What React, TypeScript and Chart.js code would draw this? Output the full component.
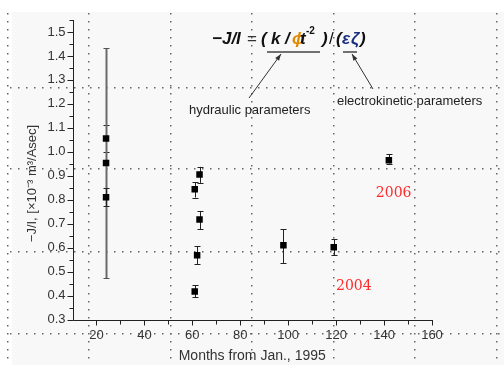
import React, { useEffect, useRef } from 'react';
import { Chart, registerables } from 'chart.js';

Chart.register(...registerables);

// ---- data ----
const months = [24, 24, 24, 61, 63, 63, 62, 61, 98, 119, 142];
const values = [1.055, 0.953, 0.81, 0.844, 0.905, 0.717, 0.568, 0.417, 0.61, 0.602, 0.965];
const errUp = [0.055, 0.48, 0.037, 0.03, 0.032, 0.036, 0.037, 0.025, 0.067, 0.034, 0.024];
const errDown = [0.055, 0.48, 0.037, 0.035, 0.035, 0.04, 0.038, 0.024, 0.074, 0.034, 0.014];

const xTicks = [20, 40, 60, 80, 100, 120, 140, 160];
const xMinorTicks = [30, 50, 70, 90, 110, 130, 150];
const yTicks = [0.3, 0.4, 0.5, 0.6, 0.7, 0.8, 0.9, 1.0, 1.1, 1.2, 1.3, 1.4, 1.5];
const yMinorTicks = [0.35, 0.45, 0.55, 0.65, 0.75, 0.85, 0.95, 1.05, 1.15, 1.25, 1.35, 1.45, 1.55];

const xTitle = 'Months from Jan., 1995';
const yTitle = '\u2212J/I, [\u00d710\u207b\u00b3 m\u00b3/Asec]';
const yearLabels = ['2006', '2004'];
const yearMonths = [144, 127.4];
const yearValues = [0.828, 0.44];
const hydraulicLabel = 'hydraulic parameters';
const electroLabel = 'electrokinetic parameters';

const W = 504;
const H = 365;
const SANS = '"Liberation Sans", Arial, sans-serif';

const decorPlugin = {
  id: 'decor',
  beforeDraw(chart: any) {
    const ctx = chart.ctx;
    ctx.save();
    ctx.fillStyle = '#ffffff';
    ctx.fillRect(0, 0, W, H);
    ctx.fillStyle = '#f8f8f8';
    ctx.fillRect(12, 12, W, H);
    ctx.fillStyle = '#666';
    const vx = [7, 88, 170, 251, 333, 414, 496];
    const hy = [87, 168, 251, 333];
    for (const x of vx) for (let y = 13; y < H; y += 8) ctx.fillRect(x, y, 1.5, 1.5);
    for (const y of hy) for (let x = 10; x < W; x += 8) ctx.fillRect(x, y, 1.5, 1.5);
    ctx.restore();
  },
  beforeDatasetsDraw(chart: any) {
    const ctx = chart.ctx;
    const xs = chart.scales.x;
    const ys = chart.scales.y;
    ctx.save();
    months.forEach((m, i) => {
      const x = Math.round(xs.getPixelForValue(m)) + 0.5;
      const yHi = ys.getPixelForValue(values[i] + errUp[i]);
      const yLo = ys.getPixelForValue(values[i] - errDown[i]);
      const big = errUp[i] + errDown[i] > 0.5;
      ctx.strokeStyle = big ? '#6a6a6a' : '#222';
      ctx.lineWidth = big ? 2 : 1;
      ctx.beginPath();
      ctx.moveTo(x, yHi);
      ctx.lineTo(x, yLo);
      ctx.stroke();
      ctx.lineWidth = 1;
      ctx.strokeStyle = big ? '#555' : '#222';
      ctx.beginPath();
      ctx.moveTo(x - 3, Math.round(yHi) + 0.5);
      ctx.lineTo(x + 3, Math.round(yHi) + 0.5);
      ctx.moveTo(x - 3, Math.round(yLo) + 0.5);
      ctx.lineTo(x + 3, Math.round(yLo) + 0.5);
      ctx.stroke();
    });
    ctx.restore();
  },
  afterDraw(chart: any) {
    const ctx = chart.ctx;
    const xs = chart.scales.x;
    const ys = chart.scales.y;
    const area = chart.chartArea;
    ctx.save();
    // axes
    ctx.strokeStyle = '#222';
    ctx.lineWidth = 1;
    const ax = Math.round(area.left) + 0.5;
    const ay = Math.round(area.bottom) + 0.5;
    ctx.beginPath();
    ctx.moveTo(ax, Math.round(area.top));
    ctx.lineTo(ax, ay);
    ctx.lineTo(Math.round(area.right) + 1, ay);
    for (const v of yTicks) {
      const y = Math.round(ys.getPixelForValue(v)) + 0.5;
      ctx.moveTo(ax - 6, y);
      ctx.lineTo(ax, y);
    }
    for (const v of yMinorTicks) {
      const y = Math.round(ys.getPixelForValue(v)) + 0.5;
      ctx.moveTo(ax - 4, y);
      ctx.lineTo(ax, y);
    }
    for (const v of xTicks) {
      const x = Math.round(xs.getPixelForValue(v)) + 0.5;
      ctx.moveTo(x, ay);
      ctx.lineTo(x, ay + 5);
    }
    for (const v of xMinorTicks) {
      const x = Math.round(xs.getPixelForValue(v)) + 0.5;
      ctx.moveTo(x, ay);
      ctx.lineTo(x, ay + 4);
    }
    ctx.stroke();

    // y title
    ctx.save();
    ctx.translate(32, 183.5);
    ctx.rotate(-Math.PI / 2);
    ctx.font = `13px ${SANS}`;
    ctx.fillStyle = '#333';
    ctx.textAlign = 'center';
    ctx.textBaseline = 'middle';
    ctx.fillText(yTitle, 0, 0);
    ctx.restore();

    // year labels
    ctx.font = '14px "DejaVu Serif", serif';
    ctx.fillStyle = '#ff2a2a';
    ctx.textAlign = 'center';
    ctx.textBaseline = 'middle';
    yearLabels.forEach((t, i) => {
      ctx.fillText(t, xs.getPixelForValue(yearMonths[i]), ys.getPixelForValue(yearValues[i]));
    });

    // formula
    ctx.textAlign = 'left';
    ctx.textBaseline = 'alphabetic';
    const bi = `italic bold 17px ${SANS}`;
    const nb = `17px ${SANS}`;
    const pieces: [string, number, string, string, number][] = [
      ['\u2212J/I', 212, bi, '#111', 44],
      ['=', 247, nb, '#333', 44],
      ['(', 261, bi, '#111', 44],
      ['k', 271, bi, '#111', 44],
      ['/', 285, bi, '#111', 44],
      ['\u03d5', 292, bi, '#e08a00', 44],
      ['t', 300, bi, '#111', 44],
      ['-2', 306, `bold 10px ${SANS}`, '#111', 34],
      [')', 322, bi, '#111', 44],
      ['/', 329, nb, '#111', 44],
      ['(', 336, bi, '#111', 44],
      ['\u03b5', 342, bi, '#1a2e80', 44],
      ['\u03b6', 351, bi, '#1a2e80', 44],
      [')', 360, bi, '#111', 44],
    ];
    for (const [t, x, f, c, y] of pieces) {
      ctx.font = f;
      ctx.fillStyle = c;
      ctx.fillText(t, x, y);
    }
    // underlines
    ctx.strokeStyle = '#444';
    ctx.lineWidth = 1.5;
    ctx.beginPath();
    ctx.moveTo(267, 52);
    ctx.lineTo(320, 52);
    ctx.moveTo(343, 52);
    ctx.lineTo(357, 52);
    ctx.stroke();
    // arrows
    const arrow = (x1: number, y1: number, x2: number, y2: number) => {
      ctx.strokeStyle = '#333';
      ctx.fillStyle = '#333';
      ctx.lineWidth = 1;
      ctx.beginPath();
      ctx.moveTo(x1, y1);
      ctx.lineTo(x2, y2);
      ctx.stroke();
      const a = Math.atan2(y2 - y1, x2 - x1);
      const L = 7;
      ctx.beginPath();
      ctx.moveTo(x2, y2);
      ctx.lineTo(x2 - L * Math.cos(a - 0.35), y2 - L * Math.sin(a - 0.35));
      ctx.lineTo(x2 - L * Math.cos(a + 0.35), y2 - L * Math.sin(a + 0.35));
      ctx.closePath();
      ctx.fill();
    };
    arrow(249, 98, 281, 54);
    arrow(373, 89, 352, 54);
    ctx.font = `13px ${SANS}`;
    ctx.fillStyle = '#222';
    ctx.textBaseline = 'middle';
    ctx.fillText(hydraulicLabel, 189, 110);
    ctx.fillText(electroLabel, 337, 101);
    ctx.restore();
  },
};

export default function App() {
  const ref = useRef<HTMLCanvasElement | null>(null);
  useEffect(() => {
    if (!ref.current) return;
    const chart = new Chart(ref.current, {
      type: 'scatter',
      data: {
        datasets: [
          {
            data: months.map((m, i) => ({ x: m, y: values[i] })),
            pointStyle: 'rect',
            pointRadius: 4.6,
            backgroundColor: '#000',
            borderColor: '#000',
            borderWidth: 0,
          },
        ],
      },
      options: {
        animation: false,
        responsive: false,
        devicePixelRatio: 1,
        layout: { padding: { left: 0, top: 20, right: 72, bottom: 0 } },
        plugins: { legend: { display: false }, tooltip: { enabled: false } },
        scales: {
          x: {
            type: 'linear',
            min: 10,
            max: 160,
            grid: { display: false, drawTicks: false },
            border: { display: false },
            afterBuildTicks: (s: any) => {
              s.ticks = xTicks.map((v) => ({ value: v }));
            },
            afterFit: (s: any) => {
              s.height = 45.5;
            },
            ticks: {
              padding: 8,
              autoSkip: false,
              maxRotation: 0,
              color: '#333',
              font: { family: SANS, size: 13 },
              callback: (v: any) => String(v),
            },
            title: {
              display: true,
              text: xTitle,
              color: '#333',
              font: { family: SANS, size: 14 },
              padding: { top: 0, bottom: 0 },
            },
          },
          y: {
            type: 'linear',
            min: 0.3,
            max: 1.55,
            grid: { display: false, drawTicks: false },
            border: { display: false },
            afterBuildTicks: (s: any) => {
              s.ticks = yTicks.map((v) => ({ value: v }));
            },
            afterFit: (s: any) => {
              s.width = 72.5;
            },
            ticks: {
              padding: 7,
              autoSkip: false,
              color: '#333',
              font: { family: SANS, size: 13 },
              callback: (v: any) => Number(v).toFixed(1),
            },
          },
        },
      },
      plugins: [decorPlugin],
    });
    return () => chart.destroy();
  }, []);
  return (
    <div style={{ position: 'fixed', left: 0, top: 0, width: W, height: H, background: '#fff' }}>
      <canvas ref={ref} width={W} height={H} style={{ display: 'block', width: W, height: H }} />
    </div>
  );
}
